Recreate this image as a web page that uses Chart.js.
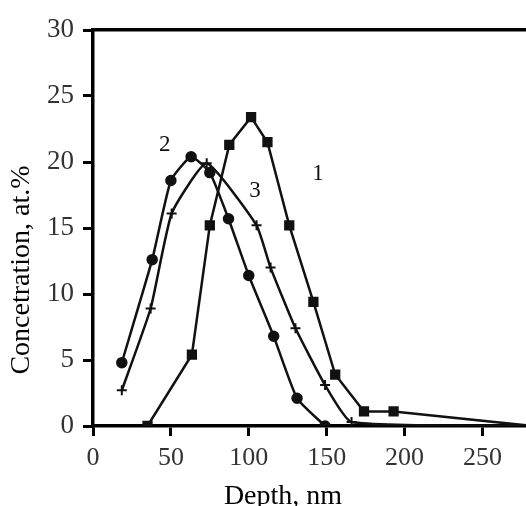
<!DOCTYPE html>
<html>
<head>
<meta charset="utf-8">
<script src="https://cdn.jsdelivr.net/npm/chart.js@4/dist/chart.umd.min.js"></script>
<style>
  html, body { margin: 0; padding: 0; background: #fff; }
  #wrap { width: 526px; height: 506px; }
</style>
</head>
<body>
<div id="wrap"><canvas id="chart" width="526" height="506"></canvas></div>
<script>
// curve 1 (squares)
const depth1 = [35, 63.5, 75, 87.5, 101.5, 112, 126, 141.5, 155.5, 174, 193, 282];
const conc1 = [0, 5.4, 15.2, 21.3, 23.4, 21.5, 15.2, 9.4, 3.9, 1.1, 1.1, 0];
// curve 2 (circles)
const depth2 = [18.5, 38, 50, 63, 75, 87, 100, 116, 131, 149];
const conc2 = [4.8, 12.6, 18.6, 20.4, 19.2, 15.7, 11.4, 6.8, 2.1, 0];
// curve 3 (crosses)
const depth3 = [18.5, 37, 50.5, 73, 105, 114, 130, 149, 166, 282];
const conc3 = [2.7, 8.9, 16.1, 19.9, 15.2, 12.0, 7.4, 3.1, 0.3, 0];
// curve numbers
const curveLabels = ["1", "2", "3"];
const labelX = [144.5, 46, 104];
const labelY = [19.1, 21.3, 17.8];

const xTicks = [0, 50, 100, 150, 200, 250];
const yTicks = [0, 5, 10, 15, 20, 25, 30];
const xTitle = "Depth, nm";
const yTitle = "Concetration, at.%";

const serif = "'Liberation Serif', 'DejaVu Serif', serif";

function toPoints(xs, ys) {
    return xs.map((x, i) => ({ x: x, y: ys[i] }));
}

// curve numbers and axis titles (titles sit off-centre in the original)
const annotations = {
    id: "annotations",
    afterDraw(chart) {
        const ctx = chart.ctx;
        const xs = chart.scales.x;
        const ys = chart.scales.y;
        const area = chart.chartArea;
        ctx.save();
        ctx.fillStyle = "#111";
        ctx.font = "23px " + serif;
        ctx.textAlign = "center";
        ctx.textBaseline = "middle";
        curveLabels.forEach((t, i) => {
            ctx.fillText(t, xs.getPixelForValue(labelX[i]), ys.getPixelForValue(labelY[i]));
        });
        ctx.fillStyle = "#000";
        ctx.font = "28px " + serif;
        ctx.fillText(xTitle, area.left + 190, area.bottom + 71);
        ctx.translate(22, area.bottom - 156);
        ctx.rotate(-Math.PI / 2);
        ctx.fillText(yTitle, 0, 0);
        ctx.restore();
    }
};

const ctx = document.getElementById("chart").getContext("2d");
new Chart(ctx, {
    type: "line",
    data: {
        datasets: [{
            label: "1",
            data: toPoints(depth1, conc1),
            borderColor: "#111",
            backgroundColor: "#111",
            borderWidth: 2.5,
            pointStyle: "rect",
            pointRadius: 5.5,
            tension: 0
        }, {
            label: "2",
            data: toPoints(depth2, conc2),
            borderColor: "#111",
            backgroundColor: "#111",
            borderWidth: 2.5,
            pointStyle: "circle",
            pointRadius: 4.5,
            tension: 0.15
        }, {
            label: "3",
            data: toPoints(depth3, conc3),
            borderColor: "#111",
            backgroundColor: "#111",
            borderWidth: 2.5,
            pointStyle: "cross",
            pointRadius: 5,
            pointBorderWidth: 2,
            tension: 0.15
        }]
    },
    options: {
        responsive: false,
        animation: false,
        layout: { autoPadding: false, padding: 0 },
        plugins: { legend: { display: false }, tooltip: { enabled: false } },
        scales: {
            x: {
                type: "linear",
                min: 0,
                max: 278,
                afterBuildTicks: s => { s.ticks = xTicks.map(v => ({ value: v })); },
                afterFit: s => { s.height = 80; },
                ticks: { color: "#333", font: { family: serif, size: 26 }, padding: 7, maxRotation: 0 },
                grid: { drawOnChartArea: false, drawTicks: true, tickLength: 10, lineWidth: 3, color: "#000" },
                border: { display: true, width: 3.5, color: "#000" }
            },
            x2: {
                type: "linear",
                position: "top",
                min: 0,
                max: 278,
                afterBuildTicks: s => { s.ticks = xTicks.map(v => ({ value: v })); },
                afterFit: s => { s.height = 30; },
                ticks: { display: false },
                grid: { display: false },
                border: { display: true, width: 3.5, color: "#000" }
            },
            y: {
                min: 0,
                max: 30,
                afterBuildTicks: s => { s.ticks = yTicks.map(v => ({ value: v })); },
                afterFit: s => { s.width = 93; },
                ticks: { color: "#333", font: { family: serif, size: 27 }, padding: 9 },
                grid: { drawOnChartArea: false, drawTicks: true, tickLength: 10, lineWidth: 3, color: "#000" },
                border: { display: true, width: 3.5, color: "#000" }
            }
        }
    },
    plugins: [annotations]
});
</script>
</body>
</html>
